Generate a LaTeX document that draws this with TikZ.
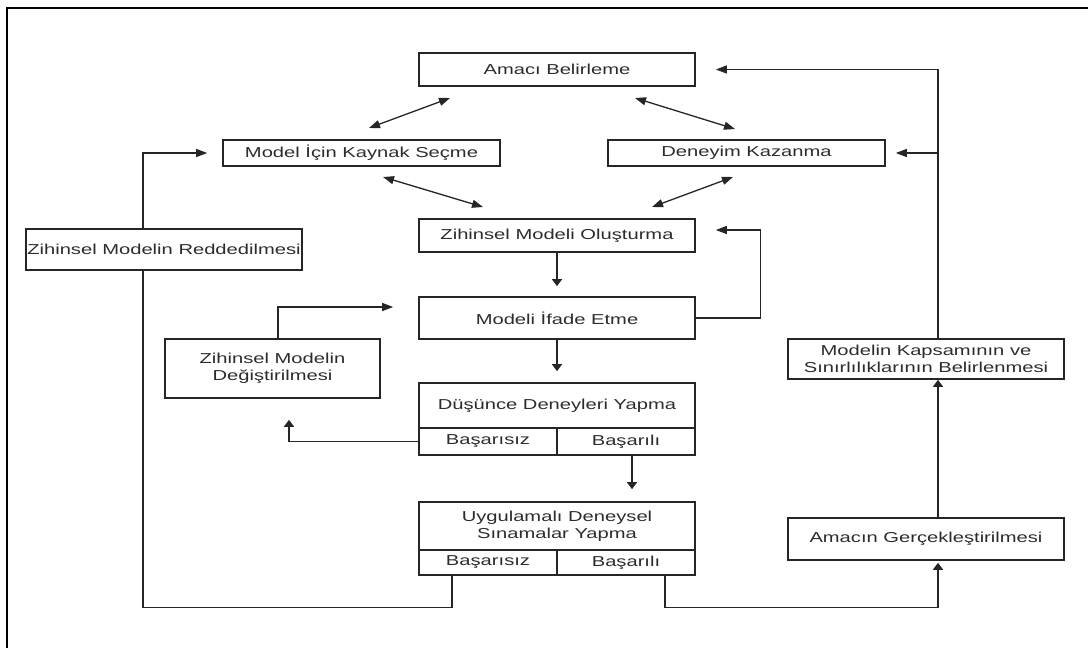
\documentclass[tikz,border=0pt]{standalone}
\usepackage{fontspec}
\setmainfont{Liberation Sans}[FakeStretch=1.4]
\usetikzlibrary{arrows.meta}
\definecolor{ink}{HTML}{262626}
\definecolor{txt}{HTML}{2C2C2C}
\begin{document}
\begin{tikzpicture}[x=1pt,y=-1pt,
  box/.style={draw=ink, line width=1.6pt, inner sep=0pt, align=center, text=txt,
              font=\fontsize{14.4}{17}\selectfont},
  link/.style={draw=ink, line width=1.3pt},
  vtip/.style={link, -{Triangle[length=7pt,width=10pt]}},
  htip/.style={link, -{Triangle[length=11pt,width=8pt]}},
  dtip/.style={link, {Triangle[length=11pt,width=8pt]}-{Triangle[length=11pt,width=8pt]}}]

\path[use as bounding box] (0,0) rectangle (1088,648);
% outer frame (top and left edges)
\draw[line width=2pt, black] (7,652) -- (7,8) -- (1092,8);

% boxes
\node[box, minimum width=276pt, minimum height=33pt] (amac) at (557,69.5) {Amacı Belirleme};
\node[box, minimum width=277pt, minimum height=26pt] (kaynak) at (361.5,153) {Model İçin Kaynak Seçme};
\node[box, minimum width=277pt, minimum height=26pt] (deneyim) at (746.5,153) {Deneyim Kazanma};
\node[box, minimum width=276pt, minimum height=33pt] (olus) at (557,235.5) {Zihinsel Modeli Oluşturma};
\node[box, minimum width=276pt, minimum height=41pt] (red) at (164,249.5) {Zihinsel Modelin Reddedilmesi};
\node[box, minimum width=276pt, minimum height=42pt] (ifade) at (557,318) {Modeli İfade Etme};
\node[box, minimum width=215pt, minimum height=59pt] (degis) at (272.5,368.5) {Zihinsel Modelin\\ Değiştirilmesi};
\node[box, minimum width=276pt, minimum height=40pt] (kapsam) at (926,359) {Modelin Kapsamının ve\\Sınırlılıklarının Belirlenmesi};
\node[box, minimum width=276pt, minimum height=42pt] (gercek) at (926,539) {Amacın Gerçekleştirilmesi};

% thought experiments with outcome cells
\node[box, minimum width=276pt, minimum height=45pt] (ddT) at (557,405.5) {Düşünce Deneyleri Yapma};
\node[box, minimum width=138pt, minimum height=27pt] (ddF) at (488,441.5) {Başarısız};
\node[box, minimum width=138pt, minimum height=27pt] (ddS) at (626,441.5) {Başarılı};

% applied experimental tests with outcome cells
\node[box, minimum width=276pt, minimum height=48pt] (uuT) at (557,526) {Uygulamalı Deneysel\\Sınamalar Yapma};
\node[box, minimum width=138pt, minimum height=25pt] (uuF) at (488,562.5) {Başarısız};
\node[box, minimum width=138pt, minimum height=25pt] (uuS) at (626,562.5) {Başarılı};

% free ends of the two-way links
\coordinate (a1) at (450,98);  \coordinate (a2) at (369,128);
\coordinate (b1) at (635,98);  \coordinate (b2) at (735,129);
\coordinate (c1) at (383,177); \coordinate (c2) at (483,207);
\coordinate (d1) at (733,177); \coordinate (d2) at (652,207);
\draw[dtip] (a1) -- (a2);
\draw[dtip] (b1) -- (b2);
\draw[dtip] (c1) -- (c2);
\draw[dtip] (d1) -- (d2);

% main column
\draw[vtip, shorten >=10pt] (olus.south) -- (ifade.north);
\draw[vtip, shorten >=11pt] (ifade.south) -- (ddT.north);
\coordinate (ddout) at ([xshift=6pt]ddS.south);
\draw[vtip, shorten >=12pt] (ddout) -- (ddout |- uuT.north);

% feedback from expressing back to building
\draw[htip] (ifade.east) -- ++(65,0) |- ([xshift=20pt,yshift=5.5pt]olus.east);

% revision loop
\draw[htip] ([xshift=5.5pt]degis.north) |- ([xshift=-25pt,yshift=11pt]ifade.west);
\draw[vtip] (ddF.west) -| ([xshift=16.5pt,yshift=-21pt]degis.south);

% rejection loop
\draw[link] ([xshift=-36pt]uuF.south) -- ++(0,32) -| ([xshift=-21pt]red.south);
\draw[htip] ([xshift=-21pt]red.north) |- ([xshift=-15pt]kaynak.west);

% success path
\coordinate (rx) at ([xshift=12pt]gercek.south);
\draw[vtip] ([xshift=39pt]uuS.south) -- ++(0,32) -| ([yshift=-2pt]rx);
\draw[vtip] ([xshift=12pt]gercek.north) -- ([xshift=12pt]kapsam.south);
\coordinate (kt) at ([xshift=12pt]kapsam.north);
\draw[htip] (kt) |- ([xshift=20pt]amac.east);
\draw[htip] (kt |- deneyim.east) -- ([xshift=10pt]deneyim.east);
\end{tikzpicture}
\end{document}
